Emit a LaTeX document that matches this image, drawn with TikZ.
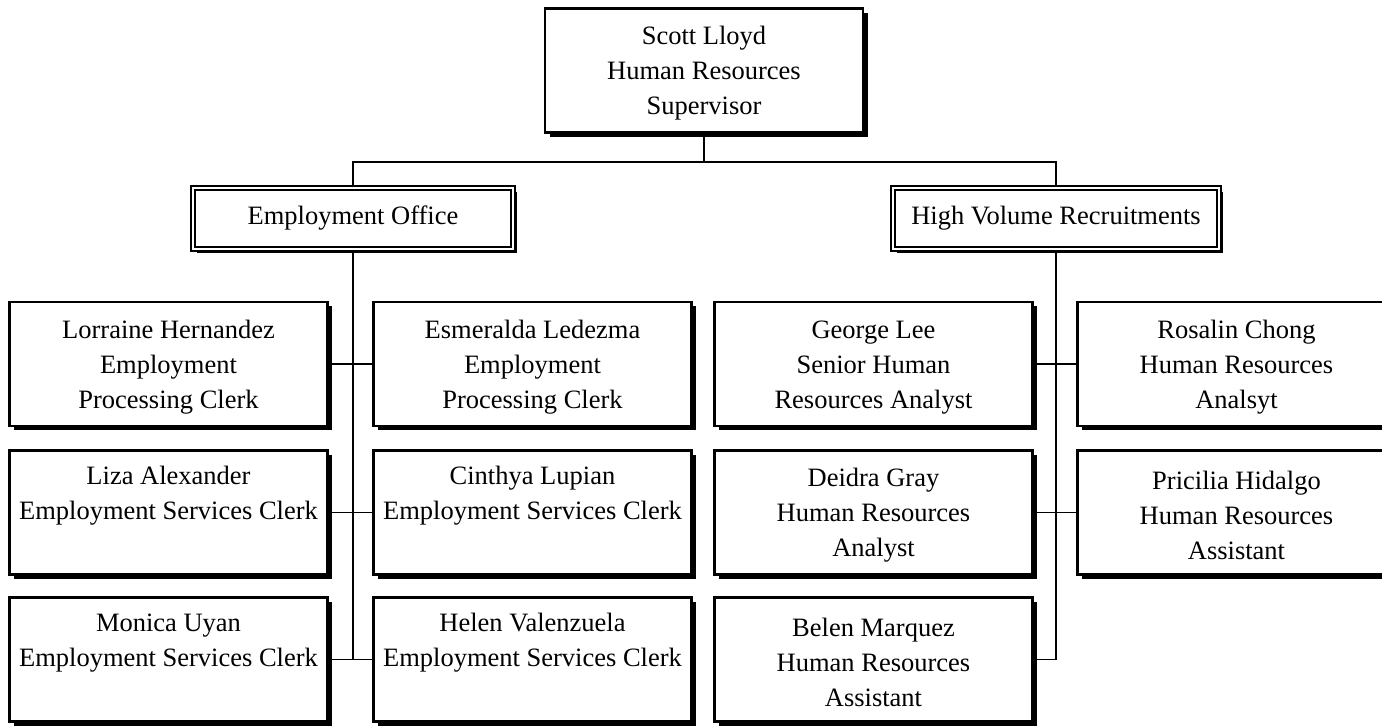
\documentclass[tikz,border=0pt]{standalone}
\usepackage{fontspec}
\setmainfont{Liberation Serif}
\usetikzlibrary{shadows}

\begin{document}
\begin{tikzpicture}[x=1pt, y=1pt,
  person/.style={draw, line width=2.2pt, fill=white, inner sep=0pt,
    minimum width=318pt, minimum height=124pt, align=center,
    font=\fontsize{26.5}{35}\selectfont,
    drop shadow={shadow xshift=4.5pt, shadow yshift=-4.5pt, fill=black, opacity=1}},
  unit/.style={draw, line width=1.8pt, double=white, double distance=2pt,
    fill=white, inner sep=0pt, minimum height=61pt,
    font=\fontsize{26.5}{35}\selectfont,
    drop shadow={shadow xshift=3.8pt, shadow yshift=-3.8pt, fill=black, opacity=1}},
  link/.style={line width=1.6pt}]
  \clip (0,0) rectangle (1382,728);

  % Supervisor and the two units
  \node[person] (sl) at (704,657.5) {\strut Scott Lloyd\\Human Resources\\Supervisor};
  \coordinate (bus) at (704,566);
  \node[unit, minimum width=320pt] (eo) at (353,509.5) {Employment Office};
  \node[unit, minimum width=326pt] (hvr) at (1056,509.5) {High Volume Recruitments};

  % Employment Office staff
  \node[person] (lh) at (168.5,364) {\strut Lorraine Hernandez\\Employment\\Processing Clerk};
  \node[person] (el) at (532.5,364) {\strut Esmeralda Ledezma\\Employment\\Processing Clerk};
  \node[person] (la) at (168.5,215.5) {\strut Liza Alexander\\Employment Services Clerk\\\strut};
  \node[person] (cl) at (532.5,215.5) {\strut Cinthya Lupian\\Employment Services Clerk\\\strut};
  \node[person] (mu) at (168.5,68.5) {\strut Monica Uyan\\Employment Services Clerk\\\strut};
  \node[person] (hv) at (532.5,68.5) {\strut Helen Valenzuela\\Employment Services Clerk\\\strut};

  % High Volume Recruitments staff
  \node[person] (gl) at (873.5,364) {\strut George Lee\\Senior Human\\Resources Analyst};
  \node[person] (rc) at (1236.5,364) {\strut Rosalin Chong\\Human Resources\\Analsyt};
  \node[person] (dg) at (873.5,215.5) {\strut Deidra Gray\\Human Resources\\Analyst};
  \node[person] (ph) at (1236.5,215.5) {\strut Pricilia Hidalgo\\Human Resources\\Assistant};
  \node[person] (bm) at (873.5,68.5) {\strut Belen Marquez\\Human Resources\\Assistant};

  % Top links
  \draw[link] (sl.south) -- (bus);
  \draw[link] (eo.north) |- (bus) -| (hvr.north);

  % Left branch
  \draw[link] (eo.south) -- (eo.south |- mu.east);
  \draw[link] (lh.east) -- (el.west);
  \draw[link] (la.east) -- (cl.west);
  \draw[link] (mu.east) -- (hv.west);

  % Right branch
  \draw[link] (hvr.south) |- (bm.east);
  \draw[link] (gl.east) -- (rc.west);
  \draw[link] (dg.east) -- (ph.west);
\end{tikzpicture}
\end{document}
